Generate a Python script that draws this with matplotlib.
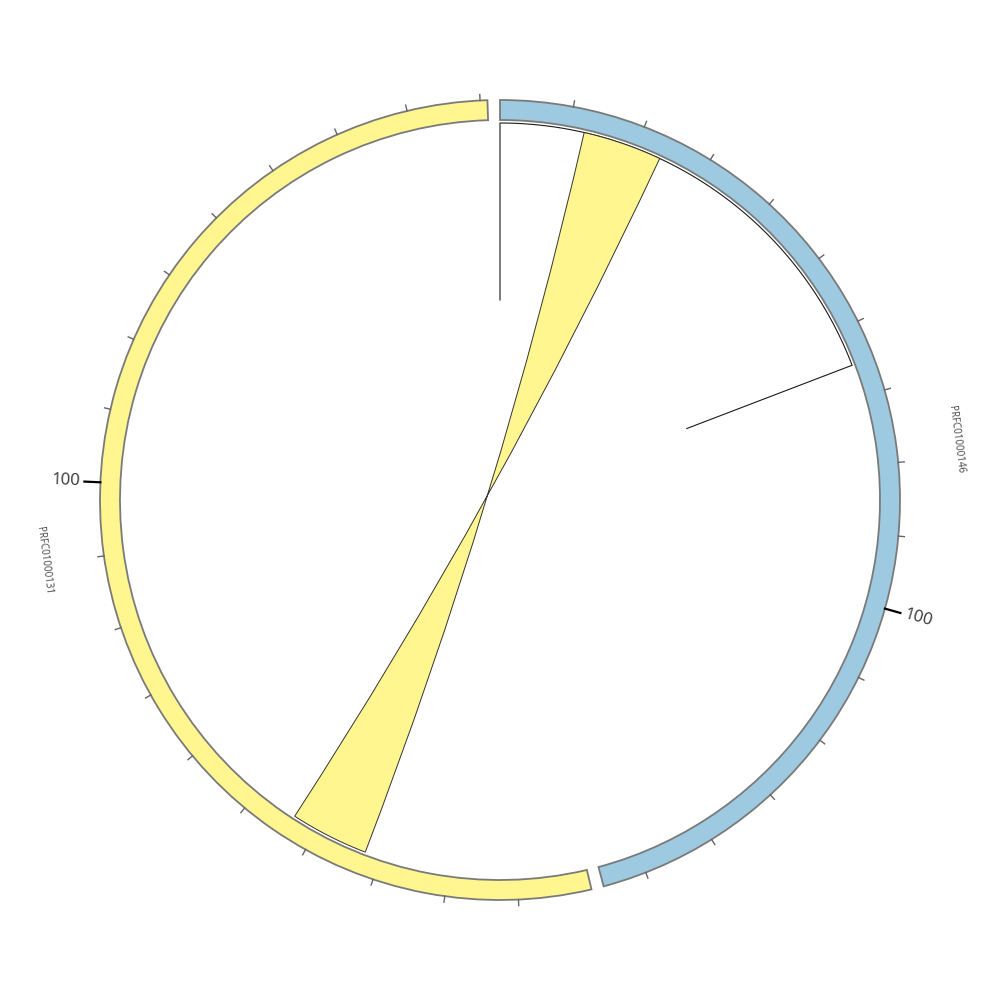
import numpy as np
import matplotlib
matplotlib.use("Agg")
from matplotlib import pyplot as plt
from matplotlib.patches import Wedge, PathPatch
from matplotlib.path import Path

# ideograms (name, length, colour)
names = ["PRFC01000146", "PRFC01000131"]
lengths = [156, 181]
colors = ["#9ecae1", "#fff68f"]

# links: (chrom1, start1, end1, chrom2, start2, end2, fill)
link_a = [0, 12.2, 23.7, 1, 32.3, 43.7, "#fff68f"]
# truncated white link on the first ideogram
link_b = [0, 0.0, 65.3]

tick_step = 10
major_tick = 100

GAP = 1.8
R_OUT, R_IN, R_LINK = 400, 380, 377

total = sum(lengths)
deg_per_unit = (360 - GAP * len(lengths)) / total
starts = []
a = 0.0
for L in lengths:
    starts.append(a)
    a += L * deg_per_unit + GAP


def ang(ci, pos):
    return starts[ci] + pos * deg_per_unit


def xy(theta, r):
    t = np.radians(theta)
    return r * np.sin(t), r * np.cos(t)


def arc_pts(t1, t2, r, n=60):
    ts = np.linspace(t1, t2, n)
    return [xy(t, r) for t in ts]


fig = plt.figure(figsize=(10, 10), dpi=100)
ax = fig.add_axes([0, 0, 1, 1])
ax.set_xlim(-500, 500)
ax.set_ylim(-500, 500)
ax.set_aspect("equal")
ax.axis("off")

# white truncated link
c, s, e = link_b
t1, t2 = ang(c, s), ang(c, e)
pts = [xy(t1, 200)] + arc_pts(t1, t2, R_LINK) + [xy(t2, 200)]
pts = np.array(pts)
ax.fill(pts[:, 0], pts[:, 1], color="white", zorder=1)
ax.plot(pts[:, 0], pts[:, 1], color="#1a1a1a", lw=0.8, zorder=2)

# yellow link with quadratic bezier through centre
c1, s1, e1, c2, s2, e2, fc = link_a
a1, a2 = ang(c1, s1), ang(c1, e1)
b1, b2 = ang(c2, s2), ang(c2, e2)
verts, codes = [], []
arc1 = arc_pts(a1, a2, R_LINK)
verts += arc1
codes += [Path.MOVETO] + [Path.LINETO] * (len(arc1) - 1)
verts += [(0, 0), xy(b2, R_LINK)]
codes += [Path.CURVE3, Path.CURVE3]
arc2 = arc_pts(b2, b1, R_LINK)[1:]
verts += arc2
codes += [Path.LINETO] * len(arc2)
verts += [(0, 0), xy(a1, R_LINK)]
codes += [Path.CURVE3, Path.CURVE3]
ax.add_patch(PathPatch(Path(verts, codes), facecolor=fc, edgecolor="#333333",
                       lw=0.7, zorder=3))

# ideograms, ticks and labels
for i, (name, L, col) in enumerate(zip(names, lengths, colors)):
    t1, t2 = ang(i, 0), ang(i, L)
    ax.add_patch(Wedge((0, 0), R_OUT, 90 - t2, 90 - t1, width=R_OUT - R_IN,
                       facecolor=col, edgecolor="#7a7a7a", lw=1.3, zorder=4))
    for p in range(tick_step, L + 1, tick_step):
        t = ang(i, p)
        if p % major_tick == 0:
            x0, y0 = xy(t, R_OUT)
            x1, y1 = xy(t, R_OUT + 16)
            ax.plot([x0, x1], [y0, y1], color="black", lw=1.6, zorder=5)
            tx, ty = xy(t, R_OUT + 20)
            rot = 90 - t
            ha = "left"
            if t > 180:
                rot += 180
                ha = "right"
            ax.text(tx, ty, str(p), rotation=rot, rotation_mode="anchor",
                    ha=ha, va="center", fontsize=12, color="#333333",
                    family="Open Sans")
        else:
            x0, y0 = xy(t, R_OUT)
            x1, y1 = xy(t, R_OUT + 6)
            ax.plot([x0, x1], [y0, y1], color="#666666", lw=1.0, zorder=5)
    tm = ang(i, L / 2)
    lx, ly = xy(tm, 460)
    rot = -tm if tm < 180 else 180 - tm
    ax.text(lx, ly, name, rotation=rot, rotation_mode="anchor", ha="center",
            va="center", fontsize=7, color="#444444", family="Open Sans")

fig.savefig("out.png", dpi=100)
